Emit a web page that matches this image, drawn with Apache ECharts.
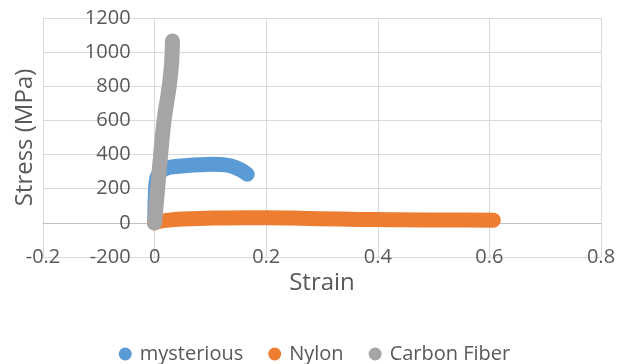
<!DOCTYPE html>
<html>
<head>
<meta charset="utf-8">
<script src="https://cdn.jsdelivr.net/npm/echarts@6/dist/echarts.min.js"></script>
<style>
  html, body { margin: 0; padding: 0; background: #ffffff; }
  #chart { width: 629px; height: 364px; }
</style>
</head>
<body>
<div id="chart"></div>
<script>
// Stress–strain curves: [strain, stress (MPa)]
const mysteriousCurve = [
  [0, 0], [0.0008, 100], [0.0018, 200], [0.004, 262], [0.009, 293],
  [0.018, 316], [0.035, 329], [0.06, 336], [0.08, 340], [0.1, 343],
  [0.118, 342], [0.133, 336], [0.146, 323], [0.157, 305], [0.166, 285]
];
const nylonCurve = [
  [0, 0], [0.008, 8], [0.025, 16], [0.05, 22], [0.08, 26], [0.13, 29],
  [0.2, 30], [0.26, 27], [0.33, 22], [0.4, 19], [0.44, 18], [0.53, 17],
  [0.607, 16]
];
const carbonFiberCurve = [
  [0, 0], [0.0108, 398], [0.017, 602], [0.026, 795], [0.0305, 936],
  [0.032, 1065]
];

const seriesNames = ['mysterious', 'Nylon', 'Carbon Fiber'];
const seriesColors = ['#5B9BD5', '#ED7D31', '#A5A5A5'];
const seriesData = [mysteriousCurve, nylonCurve, carbonFiberCurve];

const xTicks = { min: -0.2, max: 0.8, step: 0.2 };
const yTicks = { min: -200, max: 1200, step: 200 };

const FONT = '"Open Sans", sans-serif';
const TEXT = '#595959';

const GRID = { left: 43, right: 28, top: 18, bottom: 107 };
const CHART_W = 629, CHART_H = 364;
const plotW = CHART_W - GRID.left - GRID.right;
const plotH = CHART_H - GRID.top - GRID.bottom;
// both axes cross at the origin, inside the plot area
const yAxisShift = -((0 - xTicks.min) / (xTicks.max - xTicks.min)) * plotW;
const xAxisShift = -((0 - yTicks.min) / (yTicks.max - yTicks.min)) * plotH;

const chart = echarts.init(document.getElementById('chart'), null, { renderer: 'canvas' });

chart.setOption({
  animation: false,
  backgroundColor: '#ffffff',
  textStyle: { fontFamily: FONT, color: TEXT },
  grid: Object.assign({ containLabel: false, outerBoundsMode: 'none' }, GRID),
  legend: {
    data: seriesNames,
    left: 'center',
    top: 339,
    icon: 'circle',
    itemWidth: 13,
    itemHeight: 13,
    itemGap: 25,
    textStyle: { fontFamily: FONT, fontSize: 20, color: TEXT, padding: [0, 0, 0, 3] }
  },
  xAxis: {
    type: 'value',
    position: 'bottom',
    min: xTicks.min,
    max: xTicks.max,
    interval: xTicks.step,
    offset: xAxisShift,
    name: 'Strain',
    nameLocation: 'middle',
    nameGap: 48,
    nameMoveOverlap: false,
    nameTextStyle: { fontFamily: FONT, fontSize: 24, color: TEXT },
    axisLine: { show: true, onZero: false, lineStyle: { color: '#BFBFBF', width: 1 } },
    axisTick: { show: false },
    axisLabel: {
      margin: 24,
      fontFamily: FONT, fontSize: 20, color: TEXT,
      formatter: v => String(Math.round(v * 10) / 10)
    },
    splitLine: { show: true, lineStyle: { color: '#D9D9D9', width: 1 } }
  },
  yAxis: {
    type: 'value',
    position: 'left',
    min: yTicks.min,
    max: yTicks.max,
    interval: yTicks.step,
    offset: yAxisShift,
    name: 'Stress (MPa)',
    nameLocation: 'middle',
    nameRotate: 90,
    nameGap: 117,
    nameMoveOverlap: false,
    nameTextStyle: { fontFamily: FONT, fontSize: 24, color: TEXT },
    axisLine: { show: true, onZero: false, lineStyle: { color: '#D9D9D9', width: 1 } },
    axisTick: { show: false },
    axisLabel: {
      margin: 24, fontFamily: FONT, fontSize: 20, color: TEXT,
      formatter: v => String(v)
    },
    splitLine: { show: true, lineStyle: { color: '#D9D9D9', width: 1 } }
  },
  series: seriesNames.map((name, i) => ({
    name: name,
    type: 'line',
    data: seriesData[i],
    smooth: 0.3,
    showSymbol: false,
    symbol: 'circle',
    color: seriesColors[i],
    lineStyle: { color: seriesColors[i], width: 15, cap: 'round', join: 'round' },
    z: 2 + i
  }))
});
</script>
</body>
</html>
